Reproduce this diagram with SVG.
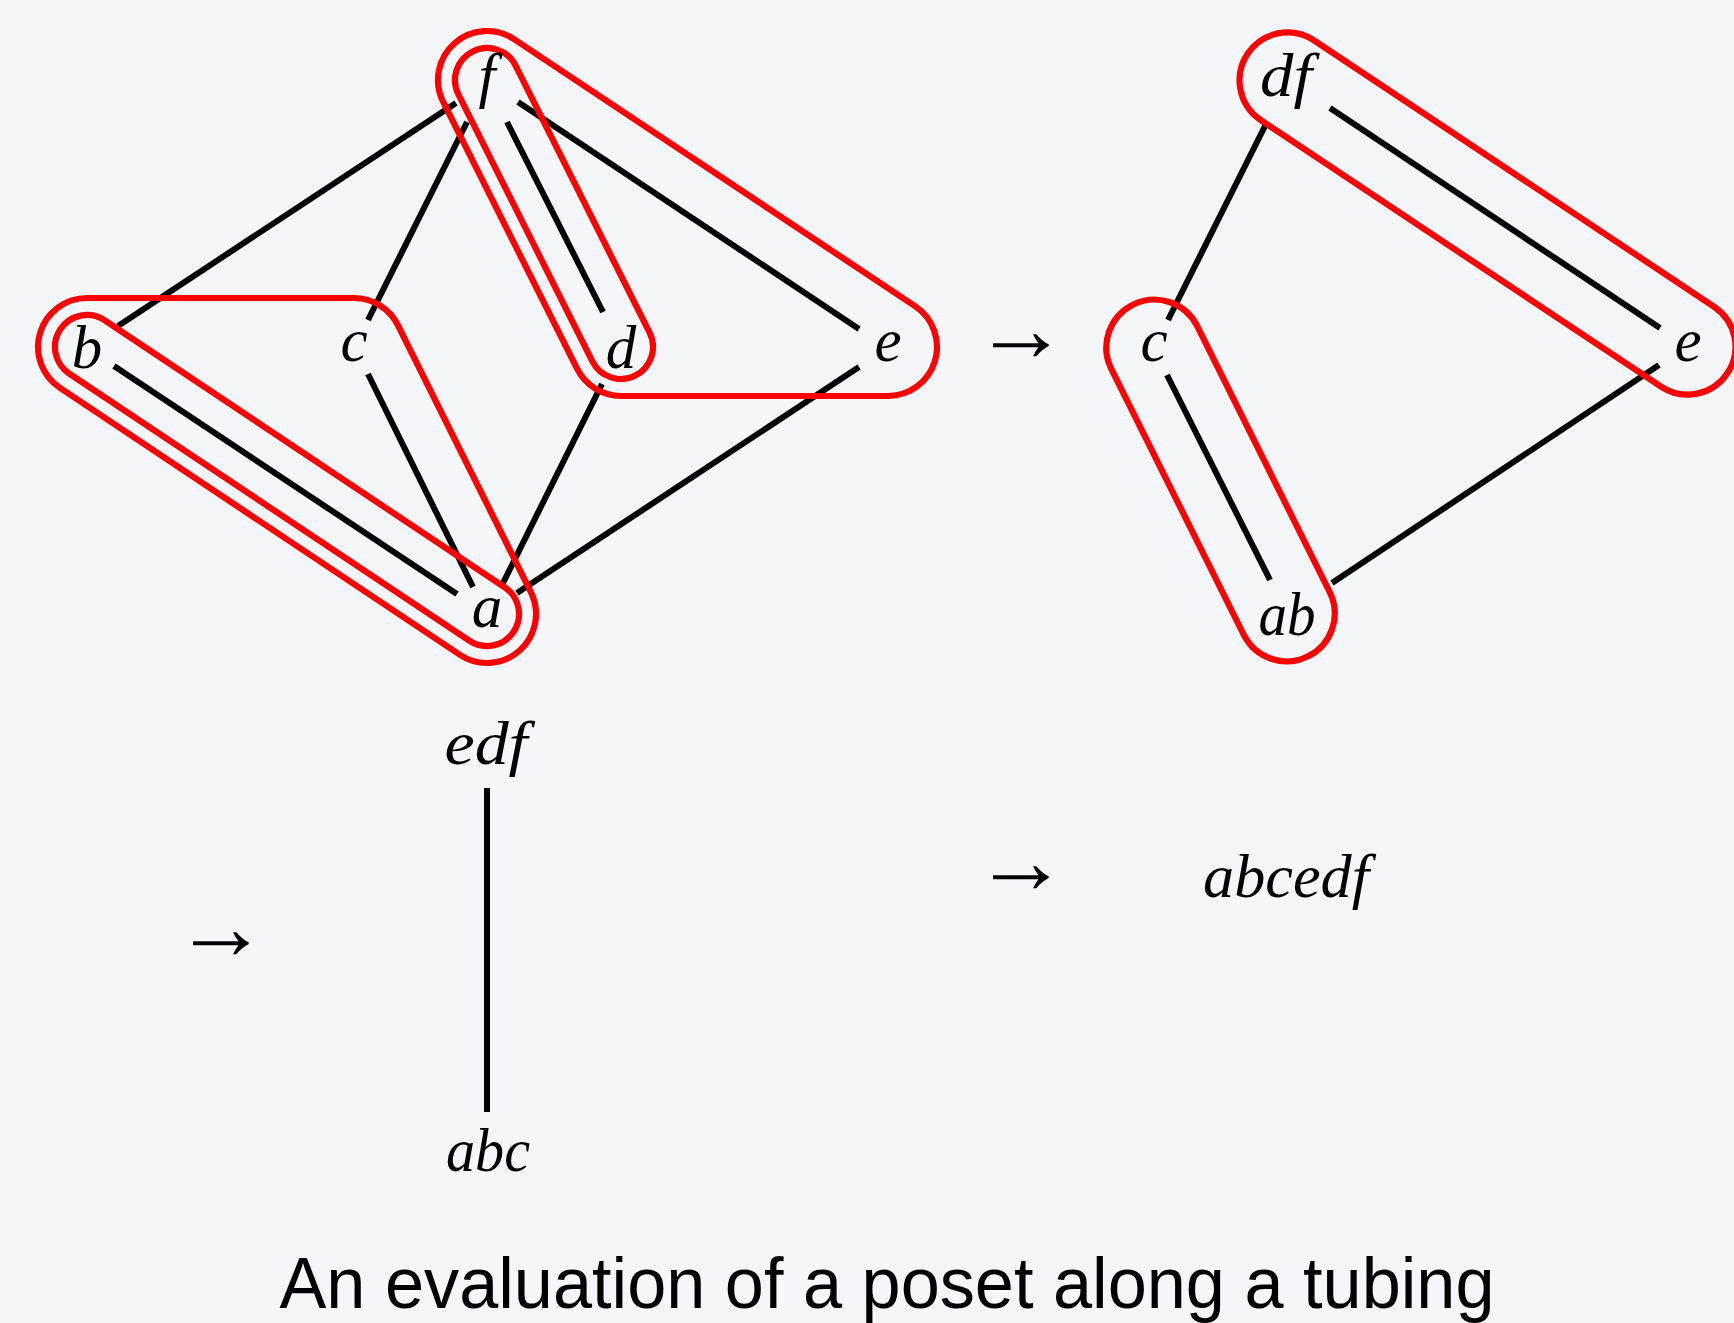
<svg xmlns="http://www.w3.org/2000/svg" width="1734" height="1323" viewBox="0 0 1734 1323">
<style>
.m{font-family:"Liberation Serif","DejaVu Serif",serif;font-style:italic;font-size:61px;fill:#000;text-anchor:middle}
.arr{font-family:"Liberation Serif","DejaVu Serif",serif;font-size:94px;fill:#000;text-anchor:middle}
.e{stroke:#000;stroke-width:6;fill:none;stroke-linecap:butt}
.t{stroke:#ff0000;stroke-width:6.2;fill:none;stroke-linejoin:round}
.title{font-family:"Liberation Sans","DejaVu Sans",sans-serif;font-size:73px;fill:#000;text-anchor:middle}
</style>
<rect x="0" y="0" width="1734" height="1323" fill="#f4f6fa"/>

<g id="connectors">
  <line class="e" x1="456" y1="103" x2="118" y2="326"/>
  <line class="e" x1="467" y1="122" x2="368" y2="320"/>
  <line class="e" x1="507" y1="122" x2="603" y2="312"/>
  <line class="e" x1="518" y1="102" x2="859" y2="329"/>
  <line class="e" x1="114" y1="366" x2="457" y2="594"/>
  <line class="e" x1="368" y1="374" x2="473" y2="587"/>
  <line class="e" x1="602" y1="384" x2="503" y2="583"/>
  <line class="e" x1="859" y1="367" x2="517" y2="593"/>
  <line class="e" x1="1267" y1="122" x2="1168" y2="320"/>
  <line class="e" x1="1330" y1="108" x2="1660" y2="328"/>
  <line class="e" x1="1167" y1="375" x2="1270" y2="580"/>
  <line class="e" x1="1659" y1="365" x2="1332" y2="583"/>
  <line class="e" x1="487" y1="788" x2="487" y2="1112"/>
</g>

<g id="tubes">
  <path class="t" d="M104.77,320.38 L504.77,587.38 A32 32 0 0 1 469.23,640.62 L69.23,373.62 A32 32 0 0 1 104.77,320.38 Z"/>
  <path class="t" d="M87,298 L354,298 A49 49 0 0 1 397.86,325.15 L530.86,592.15 A49 49 0 0 1 459.8,654.76 L59.8,387.76 A49 49 0 0 1 87,298 Z"/>
  <path class="t" d="M515.6,65.64 L649.6,332.64 A32 32 0 0 1 592.4,361.36 L458.4,94.36 A32 32 0 0 1 515.6,65.64 Z"/>
  <path class="t" d="M514.16,39.22 L915.16,306.22 A49 49 0 0 1 888,396 L621,396 A49 49 0 0 1 577.2,368.98 L443.2,101.98 A49 49 0 0 1 514.16,39.22 Z"/>
  <path class="t" d="M1313.6,40.05 L1714.6,307.05 A48 48 0 0 1 1661.4,386.95 L1260.4,119.95 A48 48 0 0 1 1313.6,40.05 Z"/>
  <path class="t" d="M1196.96,325.6 L1329.96,592.6 A48 48 0 0 1 1244.04,635.4 L1111.04,368.4 A48 48 0 0 1 1196.96,325.6 Z"/>
</g>

<g id="node-f"><text class="m" x="487" y="96">f</text></g>
<g id="node-b"><text class="m" x="87" y="368">b</text></g>
<g id="node-c"><text class="m" x="354" y="361">c</text></g>
<g id="node-d"><text class="m" x="621" y="368">d</text></g>
<g id="node-e"><text class="m" x="888" y="361">e</text></g>
<g id="node-a"><text class="m" x="487" y="627">a</text></g>

<g id="node-df"><text class="m" x="1286" y="96" textLength="52" lengthAdjust="spacingAndGlyphs">df</text></g>
<g id="node-c2"><text class="m" x="1154" y="361">c</text></g>
<g id="node-e2"><text class="m" x="1688" y="361">e</text></g>
<g id="node-ab"><text class="m" x="1287" y="635" textLength="57" lengthAdjust="spacingAndGlyphs">ab</text></g>

<g id="node-edf"><text class="m" x="486" y="764" textLength="83" lengthAdjust="spacingAndGlyphs">edf</text></g>
<g id="node-abc"><text class="m" x="488" y="1171" textLength="84" lengthAdjust="spacingAndGlyphs">abc</text></g>
<g id="node-abcedf"><text class="m" x="1286" y="897" textLength="166" lengthAdjust="spacingAndGlyphs">abcedf</text></g>

<g id="arrows">
  <text class="arr" x="1021" y="361">→</text>
  <text class="arr" x="1021" y="893">→</text>
  <text class="arr" x="221" y="959">→</text>
</g>

<text class="title" x="887" y="1308" textLength="1215" lengthAdjust="spacingAndGlyphs">An evaluation of a poset along a tubing</text>
</svg>
